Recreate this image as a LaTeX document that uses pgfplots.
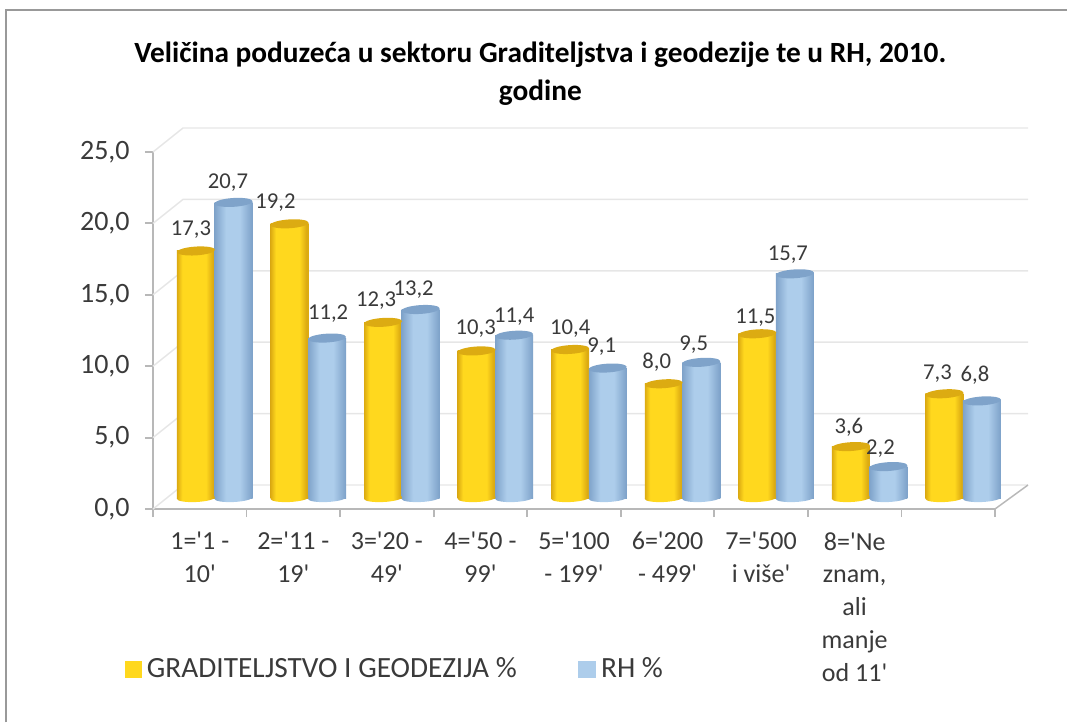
\documentclass[border=0pt]{standalone}
\usepackage{pgfplots}
\usepackage{pgfplotstable}
\pgfplotsset{compat=1.18}
\usepackage{fontspec}
\setmainfont{Carlito}
\newcommand\q{\textquotesingle}
\pgfkeys{/pgf/number format/.cd,fixed,fixed zerofill,precision=1,use comma,assume math mode=true}

\definecolor{wallgrid}{HTML}{E6E6E6}
\definecolor{axisgrey}{HTML}{B8B8B8}
\definecolor{labeltxt}{HTML}{3A3A3A}
\definecolor{ytop}{HTML}{DCAB12}
\definecolor{ymid}{HTML}{FFD81E}
\definecolor{btop}{HTML}{7FA3CA}
\definecolor{bmid}{HTML}{ADCDEB}

% only 25bp to 75bp of a shading is seen across the path
\pgfdeclarehorizontalshading{ycyl}{100bp}{
  color(0bp)=(ytop); color(25bp)=(ytop); color(32bp)=(ymid); color(63bp)=(ymid); color(72bp)=(ytop); color(100bp)=(ytop)}
\pgfdeclarehorizontalshading{bcyl}{100bp}{
  color(0bp)=(btop); color(25bp)=(btop); color(40bp)=(bmid); color(58bp)=(bmid); color(74bp)=(btop); color(100bp)=(btop)}

\pgfdeclareplotmark{cylbasey}{\pgfpathellipse{\pgfpointorigin}{\pgfqpoint{14.25pt}{0.7pt}}{\pgfqpoint{-0.2pt}{3pt}}\pgfshadepath{ycyl}{0}\pgfusepath{discard}}
\pgfdeclareplotmark{cylbaseb}{\pgfpathellipse{\pgfpointorigin}{\pgfqpoint{14.25pt}{0.7pt}}{\pgfqpoint{-0.2pt}{3pt}}\pgfshadepath{bcyl}{0}\pgfusepath{discard}}
\pgfdeclareplotmark{cyltop}{\pgfpathellipse{\pgfpointorigin}{\pgfqpoint{14.25pt}{0.9pt}}{\pgfqpoint{-0.2pt}{3.3pt}}\pgfusepathqfill}

% columns: g/rh values, then label offsets in reference pixels
\pgfplotstableread{
x g    gdx  gdy rh   rdx  rdy
0 17.3 -5   21  20.7 -5.5 20
1 19.2 -14  21  11.2 1    24
2 12.3 -7   22  13.2 -7   19.5
3 10.3 -1   22  11.4 0    19
4 10.4 0    20.5 9.1 -6   21
5 8.0  -7   22  9.5  -7.5 18
6 11.5 -2   16  15.7 -7   19
7 3.6  -2   19  2.2  -8   18
8 7.3  -7   20  6.8  -7   26
}\sizes

\tikzset{
  shiftg/.style={xshift=32.25pt,yshift=8.25pt},
  shiftb/.style={xshift=60.4pt,yshift=8.25pt}
}

\begin{document}
\begin{tikzpicture}
\path[use as bounding box] (-114.75pt,-159.75pt) rectangle (685.5pt,381.75pt);
\draw[color=black!40,line width=1.5pt] (-110.25pt,-160pt) -- (-110.25pt,374pt) -- (686pt,374pt);
\begin{axis}[
    at={(0,0)}, anchor=south west,
    scale only axis,
    width=631.5pt, height=267.75pt,
    xmin=0, xmax=9, ymin=0, ymax=25,
    clip=false,
    axis x line*=bottom, axis y line*=left,
    axis line style={draw=axisgrey,line width=1.4pt,-},
    tick style={draw=axisgrey,line width=1.4pt},
    tick align=outside, major tick length=6pt,
    xtick={0,...,9},
    ytick={0,5,...,25},
    x tick label as interval,
    xticklabels={{1=\q1 -\\10\q},{2=\q11 -\\19\q},{3=\q20 -\\49\q},{4=\q50 -\\99\q},{5=\q100\\- 199\q},{6=\q200\\- 499\q},{7=\q500\\i više\q},{8=\q Ne\\znam,\\ali\\manje\\od 11\q},{}},
    x tick label style={align=center,text=labeltxt,font=\fontsize{19.5}{24.6}\selectfont,yshift=-8pt},
    y tick label style={text=labeltxt,font=\fontsize{21}{24}\selectfont,xshift=-8pt},
    title={Veličina poduzeća u sektoru Graditeljstva i geodezije te u RH, 2010.\\godine},
    title style={at={(rel axis cs:0.46,1.197)},anchor=center,align=center,
      font=\bfseries\fontsize{22}{28.5}\selectfont},
    legend style={at={(rel axis cs:-0.034,-0.448)},anchor=west,draw=none,fill=none,
      legend columns=2,font=\fontsize{22}{24}\selectfont,text=labeltxt,inner sep=0pt,
      /tikz/every even column/.style={column sep=44pt}},
    legend cell align=left,
    nodes near coords style={font=\fontsize{17}{19}\selectfont,text=labeltxt},
]
% back wall and floor
\pgfplotsinvokeforeach{0,5,...,25}{
  \draw[wallgrid,line width=1.1pt] (axis cs:0,#1) -- ([shift={(22.5pt,18pt)}]axis cs:0,#1) -- ([shift={(24.75pt,18pt)}]axis cs:9,#1);
}
\draw[axisgrey,line width=1.1pt] (axis cs:9,0) -- ([shift={(24.75pt,18pt)}]axis cs:9,0);

\addlegendimage{legend image code/.code={\fill[ymid] (0pt,-6pt) rectangle (12pt,6pt);\path[draw=none] (0pt,0pt) -- (14.5pt,0pt);}}
\addlegendentry{GRADITELJSTVO I GEODEZIJA \%}
\addlegendimage{legend image code/.code={\fill[bmid] (0pt,-6pt) rectangle (12.5pt,6pt);\path[draw=none] (0pt,0pt) -- (15pt,0pt);}}
\addlegendentry{RH \%}

% one plot per group: bars of one plot share one path, and so one shading
\pgfplotsinvokeforeach{0,...,8}{
  \addplot[forget plot,only marks,mark=cylbasey,shiftg,restrict x to domain=#1:#1] table[x=x,y expr=0] {\sizes};
  \addplot[forget plot,ybar,bar width=28.5pt,bar shift=0pt,draw=none,shade,shading=ycyl,shiftg,restrict x to domain=#1:#1] table[x=x,y=g] {\sizes};
  \addplot[forget plot,only marks,mark=cyltop,color=ytop,shiftg,restrict x to domain=#1:#1] table[x=x,y=g] {\sizes};
  \addplot[forget plot,only marks,mark=cylbaseb,shiftb,restrict x to domain=#1:#1] table[x=x,y expr=0] {\sizes};
  \addplot[forget plot,ybar,bar width=28.5pt,bar shift=0pt,draw=none,shade,shading=bcyl,shiftb,restrict x to domain=#1:#1] table[x=x,y=rh] {\sizes};
  \addplot[forget plot,only marks,mark=cyltop,color=btop,shiftb,restrict x to domain=#1:#1] table[x=x,y=rh] {\sizes};
}

% value labels
\addplot[forget plot,only marks,mark=none,shiftg,
    visualization depends on={\thisrow{gdx} \as \dx},
    visualization depends on={\thisrow{gdy} \as \dy},
    point meta=explicit,
    nodes near coords={\pgfmathprintnumber{\pgfplotspointmeta}},
    every node near coord/.append style={anchor=center,xshift=\dx*0.75pt,yshift=\dy*0.75pt}
  ] table[x=x,y=g,meta=g] {\sizes};
\addplot[forget plot,only marks,mark=none,shiftb,
    visualization depends on={\thisrow{rdx} \as \dx},
    visualization depends on={\thisrow{rdy} \as \dy},
    point meta=explicit,
    nodes near coords={\pgfmathprintnumber{\pgfplotspointmeta}},
    every node near coord/.append style={anchor=center,xshift=\dx*0.75pt,yshift=\dy*0.75pt}
  ] table[x=x,y=rh,meta=rh] {\sizes};
\end{axis}
\end{tikzpicture}
\end{document}
